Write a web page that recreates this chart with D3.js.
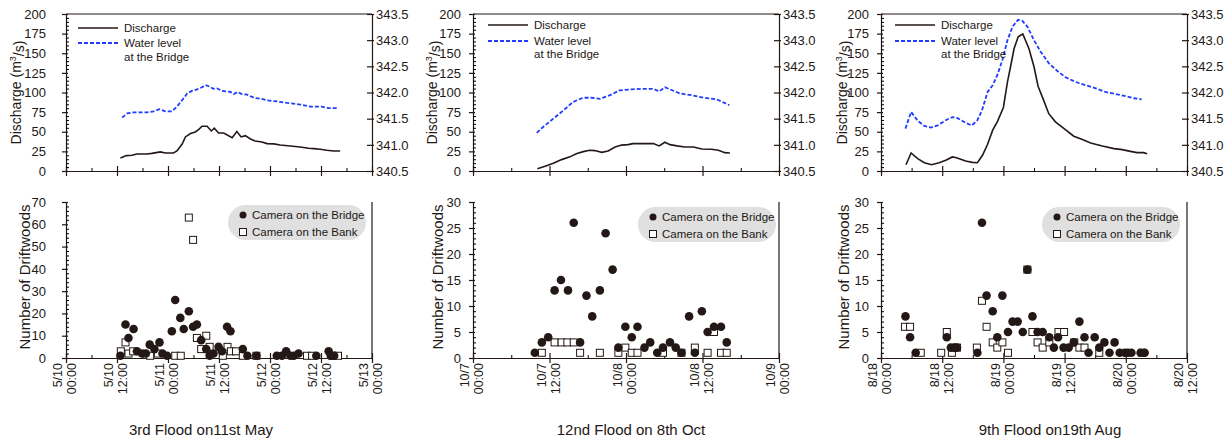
<!DOCTYPE html>
<html>
<head>
<meta charset="utf-8">
<script src="https://cdn.jsdelivr.net/npm/d3@7"></script>
<style>
  body { margin: 0; background: #fff; }
  text { font-family: "Liberation Sans", Arial, sans-serif; fill: #231815; }
</style>
</head>
<body>
<div class="container"></div>
<script>
// all times are hours after the first x tick of each flood

// 3rd flood, May
const discharge1 = [[12.8,16.6],[14.2,19.6],[15.5,20],[16.7,21.7],[19,21.7],[20.2,22.5],[22.2,24.3],[23.4,23],[25.3,23],[26.1,25.5],[27.3,34],[28.1,43.4],[29.3,47.7],[30.4,49.8],[31.2,52.8],[32,57],[33.2,57],[34.2,51],[34.9,54.5],[35.9,48.5],[37.1,48.5],[39.1,42.5],[40.2,50.2],[41.2,43.4],[42.2,45],[43.4,40.8],[44.5,38.3],[46.1,37],[47.3,34.9],[48.9,34.5],[50.4,33.2],[52.8,31.9],[55.1,30.6],[57.1,28.9],[58.3,28.5],[59.8,27.7],[61.4,26.4],[63,25.5],[64.5,25.5]];
const level1 = [[13.2,341.52],[14.4,341.60],[15.9,341.62],[19,341.62],[20.6,341.64],[22,341.68],[23.4,341.64],[24.9,341.64],[26.1,341.73],[27.3,341.85],[28.5,341.98],[29.6,342.03],[30.8,342.06],[32,342.10],[32.8,342.14],[33.6,342.12],[34.7,342.07],[35.5,342.08],[36.7,342.03],[38.7,342.01],[39.5,341.97],[40.4,342.01],[41.4,341.97],[42.6,341.96],[44.2,341.90],[46.5,341.87],[47.3,341.85],[49.6,341.83],[52,341.80],[55.1,341.77],[57.5,341.73],[60.2,341.73],[61.8,341.70],[63.8,341.70]];
const bridge1 = [[12.8,1],[14,15],[14.7,9],[15.9,13],[16.7,3],[17.9,2],[18.8,2],[19.7,6],[20.8,4],[22,7],[22.7,2],[23.8,1],[24.9,12],[25.7,26],[26.9,18],[27.7,13],[28.9,21],[29.9,14],[30.8,15],[31.8,8],[33,4],[33.8,1],[34.7,2],[35.9,5],[36.7,3],[37.9,14],[38.7,12],[41.6,4],[42.7,1],[44.8,1],[49.6,1],[50.8,1],[51.8,3],[52.8,1],[53.6,1],[54.7,2],[58.9,1],[61.8,3],[62.3,1],[63.1,1]];
const bank1 = [[12.9,3],[14,7],[14.7,2],[15.8,3],[19.8,1],[21.6,2],[25.7,1],[27,1],[28.9,63],[29.9,53],[30.8,9],[31.8,4],[33,10],[33.8,5],[36.9,1],[38,5],[38.8,3],[40,3],[41.6,1],[44.8,1],[56.7,1],[57.9,1],[62.7,1],[64,1]];
const ticks1 = ["5/10 00:00","5/10 12:00","5/11 00:00","5/11 12:00","5/12 00:00","5/12 12:00","5/13 00:00"];

// 12nd flood, October
const discharge2 = [[10.1,3],[11.3,6],[12.6,10],[13.9,14.5],[15.2,18],[16.2,22],[17.3,24.7],[18.3,26.4],[19.1,26],[20.2,23.8],[21.2,25.5],[22.3,30.6],[23.3,33],[24.3,33.6],[25.1,34.9],[26.2,34.9],[28.3,34.9],[29.2,32],[30.1,36.6],[30.9,33.6],[32,32],[33.2,30.6],[34.6,30.6],[35.9,28],[37.4,27.7],[38.5,26.4],[39.5,23.4],[40.3,23]];
const level2 = [[10,341.23],[11,341.34],[12.6,341.50],[14.2,341.66],[15.7,341.82],[17.3,341.90],[18.6,341.90],[19.9,341.88],[21.5,341.95],[23,342.04],[24.9,342.06],[26.7,342.07],[28.3,342.07],[29.2,342.02],[30.1,342.10],[30.9,342.06],[32.5,341.98],[34.3,341.95],[36.1,341.90],[38.2,341.87],[40.2,341.76]];
const bridge2 = [[9.7,1],[10.8,3],[11.8,4],[12.8,13],[13.8,15],[14.9,13],[15.8,26],[16.8,3],[17.8,12],[18.7,8],[19.9,13],[20.8,24],[21.9,17],[22.8,2],[23.9,6],[24.9,4],[25.8,6],[26.9,2],[27.8,3],[28.9,1],[29.8,2],[30.9,3],[31.8,2],[32.7,1],[33.9,8],[34.8,1],[35.9,9],[36.8,5],[37.8,6],[38.9,6],[39.8,3]];
const bank2 = [[10.8,1],[12.8,3],[13.9,3],[14.8,3],[15.8,3],[16.8,1],[19.9,1],[22.8,1],[23.9,2],[24.9,1],[25.8,1],[29.8,1],[32.7,1],[34.8,2],[36.8,1],[37.8,5],[38.9,1],[39.8,1]];
const ticks2 = ["10/7 00:00","10/7 12:00","10/8 00:00","10/8 12:00","10/9 00:00"];

// 9th flood, August
const discharge3 = [[4.9,8],[5.9,23],[7.2,15.7],[8.5,10.6],[9.9,8],[11.4,10.6],[12.7,13.6],[14,17.9],[14.8,17],[16.6,12.8],[17.9,11],[18.9,10.6],[19.9,20],[20.9,34],[21.9,52],[22.8,62.6],[24,80.9],[24.8,113.6],[25.4,132.8],[26.1,156],[26.9,171],[27.8,174.5],[29,156],[30,132.8],[30.8,108],[31.9,90],[32.9,73],[34.2,62.6],[35.9,54],[37.8,44.3],[39.5,40],[41.1,35.7],[43.4,31.9],[45.7,28.5],[47.3,27.2],[48.9,25],[50.2,23.4],[51.5,23.4],[52.2,22]];
const level3 = [[4.8,341.31],[5.9,341.63],[7.2,341.46],[8.5,341.36],[9.8,341.33],[11.1,341.37],[12.7,341.47],[14,341.53],[15,341.51],[16.6,341.42],[17.8,341.37],[18.9,341.47],[19.8,341.66],[20.9,342.01],[21.9,342.14],[22.8,342.33],[23.8,342.62],[24.8,343.00],[25.8,343.26],[26.9,343.39],[27.7,343.37],[28.7,343.26],[30,343.00],[31.3,342.78],[32.9,342.56],[34.6,342.41],[36.2,342.29],[38.2,342.20],[40.1,342.14],[42.1,342.08],[44,342.01],[46,341.97],[48,341.93],[49.6,341.89],[51.1,341.87]];
const bridge3 = [[4.8,8],[5.7,4],[6.8,1],[12.9,4],[13.7,2],[14.4,2],[14.9,2],[18.9,1],[19.8,26],[20.7,12],[21.9,9],[22.8,4],[23.8,12],[24.9,5],[25.8,7],[26.8,7],[27.8,5],[28.7,17],[29.7,8],[30.7,5],[31.7,5],[33,4],[33.9,2],[34.7,4],[35.8,2],[36.8,2],[37.8,3],[38.9,7],[39.9,4],[40.7,1],[41.9,4],[42.8,2],[43.8,3],[44.8,1],[45.8,3],[46.8,1],[47.8,1],[48.4,1],[49.1,1],[50.9,1],[51.7,1]];
const bank3 = [[4.7,6],[5.7,6],[7.8,1],[11.8,1],[12.9,5],[13.9,1],[14.9,2],[18.8,2],[19.8,11],[20.7,6],[21.9,3],[22.8,2],[23.8,3],[24.9,1],[28.7,17],[29.7,5],[30.7,3],[31.7,2],[33,3],[34.8,5],[35.9,5],[37.9,3],[38.9,2],[39.9,2],[42.8,1],[51.2,1]];
const ticks3 = ["8/18 00:00","8/18 12:00","8/19 00:00","8/19 12:00","8/20 00:00","8/20 12:00"];

const titles = ["3rd Flood on11st May", "12nd Flood on 8th Oct", "9th Flood on19th Aug"];
const countMax = [70, 30, 30];

const ink = "#231815";
const blue = "#1f3cff";

const panels = [
  { left: 66, q: discharge1, wl: level1, br: bridge1, bk: bank1, ticks: ticks1, pad: 16,
    qLab: 16, nLab: 25, leg: [12, 28, 43, 57], pill: [228, 205], title: 201 },
  { left: 473, q: discharge2, wl: level2, br: bridge2, bk: bank2, ticks: ticks2, pad: 8,
    qLab: 432, nLab: 438, leg: [15, 25, 41, 53.5], pill: [638, 207], title: 631 },
  { left: 881, q: discharge3, wl: level3, br: bridge3, bk: bank3, ticks: ticks3, pad: 8,
    qLab: 842, nLab: 844, leg: [14, 25, 41, 53.5], pill: [1042, 207], title: 1050 },
];

const W = 306;
const topY = [14, 171];
const botY = [202, 358];

var svg = d3.select(".container").append("svg")
  .attr("width", 1229).attr("height", 446);

let crossTicks = (g, a, b, vertical) => {
  g.selectAll(".tick line").attr(vertical ? "x1" : "y1", a).attr(vertical ? "x2" : "y2", b);
};

panels.forEach((p, i) => {
  let hours = (p.ticks.length - 1) * 12;
  let x = d3.scaleLinear().domain([0, hours]).range([p.left, p.left + W]);
  let yQ = d3.scaleLinear().domain([0, 200]).range([topY[1], topY[0]]);
  let yW = d3.scaleLinear().domain([340.5, 343.5]).range([topY[1], topY[0]]);
  let yN = d3.scaleLinear().domain([0, countMax[i]]).range([botY[1], botY[0]]);
  let majors = d3.range(0, hours + 1, 12);
  let minors = d3.range(6, hours, 12);

  // ---------- top chart ----------
  let top = svg.append("g");

  top.append("line").attr("x1", p.left).attr("x2", p.left + W)
    .attr("y1", topY[0]).attr("y2", topY[0]).attr("stroke", ink).attr("stroke-width", 1.2);

  let gx = top.append("g").attr("transform", `translate(0,${topY[1]})`)
    .call(d3.axisBottom(x).tickValues(majors).tickFormat("").tickSizeOuter(0));
  crossTicks(gx, -5, 5, false);
  top.append("g").attr("transform", `translate(0,${topY[1]})`)
    .call(d3.axisBottom(x).tickValues(minors).tickFormat("").tickSize(-3).tickSizeOuter(0))
    .call((g) => g.select(".domain").remove());

  let gy = top.append("g").attr("transform", `translate(${p.left},0)`)
    .call(d3.axisLeft(yQ).tickValues(d3.range(0, 201, 25)).tickSize(4).tickPadding(p.pad).tickSizeOuter(0));
  crossTicks(gy, -4, 2, true);
  top.append("g").attr("transform", `translate(${p.left},0)`)
    .call(d3.axisLeft(yQ).tickValues(d3.range(5, 200, 5).filter((v) => v % 25)).tickFormat("").tickSize(-3).tickSizeOuter(0))
    .call((g) => g.select(".domain").remove());

  let gr = top.append("g").attr("transform", `translate(${p.left + W},0)`)
    .call(d3.axisRight(yW).tickValues(d3.range(340.5, 343.51, 0.5)).tickFormat(d3.format(".1f"))
      .tickSize(2).tickPadding(2).tickSizeOuter(0));
  crossTicks(gr, -5, 2, true);

  [gx, gy, gr].forEach((g) => {
    g.selectAll("path, line").attr("stroke", ink).attr("stroke-width", 1.2);
    g.selectAll("text").attr("font-size", 13).attr("fill", ink);
  });

  top.append("path").datum(p.wl)
    .attr("fill", "none").attr("stroke", blue).attr("stroke-width", 1.8).attr("stroke-dasharray", "4,2")
    .attr("d", d3.line().x((d) => x(d[0])).y((d) => yW(d[1])));
  top.append("path").datum(p.q)
    .attr("fill", "none").attr("stroke", ink).attr("stroke-width", 1.6)
    .attr("d", d3.line().x((d) => x(d[0])).y((d) => yQ(d[1])));

  // legend
  let lx = p.left + p.leg[0];
  top.append("line").attr("x1", lx).attr("x2", lx + 40).attr("y1", p.leg[1]).attr("y2", p.leg[1])
    .attr("stroke", ink).attr("stroke-width", 1.3);
  top.append("line").attr("x1", lx).attr("x2", lx + 40).attr("y1", p.leg[2]).attr("y2", p.leg[2])
    .attr("stroke", blue).attr("stroke-width", 1.8).attr("stroke-dasharray", "4,2");
  [["Discharge", p.leg[1]], ["Water level", p.leg[2]], ["at the Bridge", p.leg[3]]].forEach((t) => {
    top.append("text").attr("x", lx + 46).attr("y", t[1]).attr("dy", "0.35em")
      .attr("font-size", 11.5).text(t[0]);
  });

  let qt = top.append("text")
    .attr("transform", `translate(${p.qLab},${(topY[0] + topY[1]) / 2}) rotate(-90)`)
    .attr("text-anchor", "middle").attr("dy", "0.35em").attr("font-size", 14);
  qt.append("tspan").text("Discharge (m");
  qt.append("tspan").attr("font-size", 9).attr("dy", "-0.6em").text("3");
  qt.append("tspan").attr("dy", "0.6em").text("/s)");

  // ---------- bottom chart ----------
  let bot = svg.append("g");

  bot.append("line").attr("x1", p.left + W).attr("x2", p.left + W)
    .attr("y1", botY[0]).attr("y2", botY[1]).attr("stroke", ink).attr("stroke-width", 1.2);

  let bx = bot.append("g").attr("transform", `translate(0,${botY[1]})`)
    .call(d3.axisBottom(x).tickValues(majors).tickFormat("").tickSizeOuter(0));
  crossTicks(bx, -5, 5, false);
  bot.append("g").attr("transform", `translate(0,${botY[1]})`)
    .call(d3.axisBottom(x).tickValues(minors).tickFormat("").tickSize(-3).tickSizeOuter(0))
    .call((g) => g.select(".domain").remove());

  let step = countMax[i] > 40 ? 10 : 5;
  let minorStep = countMax[i] > 40 ? 2 : 1;
  let by = bot.append("g").attr("transform", `translate(${p.left},0)`)
    .call(d3.axisLeft(yN).tickValues(d3.range(0, countMax[i] + 1, step)).tickSize(4).tickPadding(p.pad).tickSizeOuter(0));
  crossTicks(by, -4, 2, true);
  bot.append("g").attr("transform", `translate(${p.left},0)`)
    .call(d3.axisLeft(yN).tickValues(d3.range(minorStep, countMax[i], minorStep).filter((v) => v % step)).tickFormat("").tickSize(-3).tickSizeOuter(0))
    .call((g) => g.select(".domain").remove());

  [bx, by].forEach((g) => {
    g.selectAll("path, line").attr("stroke", ink).attr("stroke-width", 1.2);
    g.selectAll("text").attr("font-size", 13).attr("fill", ink);
  });

  // rotated two-line date labels
  p.ticks.forEach((lab, k) => {
    let parts = lab.split(" ");
    let tx = x(k * 12);
    [[parts[0], -8], [parts[1], 6]].forEach((part) => {
      bot.append("text")
        .attr("transform", `translate(${tx + part[1]},${botY[1] + 5}) rotate(-90)`)
        .attr("text-anchor", "end").attr("dy", "0.35em").attr("font-size", 12.5)
        .text(part[0]);
    });
  });

  bot.selectAll(".bank").data(p.bk).enter().append("rect")
    .attr("x", (d) => x(d[0]) - 3.5).attr("y", (d) => yN(d[1]) - 3.5)
    .attr("width", 7).attr("height", 7)
    .attr("fill", "#fff").attr("stroke", ink).attr("stroke-width", 1);
  bot.selectAll(".bridge").data(p.br).enter().append("circle")
    .attr("cx", (d) => x(d[0])).attr("cy", (d) => yN(d[1])).attr("r", 4.3)
    .attr("fill", ink);

  // legend pill
  let px = p.pill[0], py = p.pill[1];
  bot.append("rect").attr("x", px).attr("y", py).attr("width", 138).attr("height", 35)
    .attr("rx", 17.5).attr("fill", "#e0e0e0");
  bot.append("circle").attr("cx", px + 15).attr("cy", py + 10).attr("r", 3.5).attr("fill", ink);
  bot.append("rect").attr("x", px + 11.5).attr("y", py + 23.5).attr("width", 7).attr("height", 7)
    .attr("fill", "#fff").attr("stroke", ink);
  [["Camera on the Bridge", 10], ["Camera on the Bank", 27]].forEach((t) => {
    bot.append("text").attr("x", px + 24).attr("y", py + t[1]).attr("dy", "0.35em")
      .attr("font-size", 11.5).text(t[0]);
  });

  bot.append("text")
    .attr("transform", `translate(${p.nLab},${(botY[0] + botY[1]) / 2 - 3}) rotate(-90)`)
    .attr("text-anchor", "middle").attr("dy", "0.35em").attr("font-size", 15)
    .text("Number of Driftwoods");

  svg.append("text").attr("x", p.title).attr("y", 430).attr("dy", "0.35em")
    .attr("text-anchor", "middle").attr("font-size", 15).text(titles[i]);
});
</script>
</body>
</html>
